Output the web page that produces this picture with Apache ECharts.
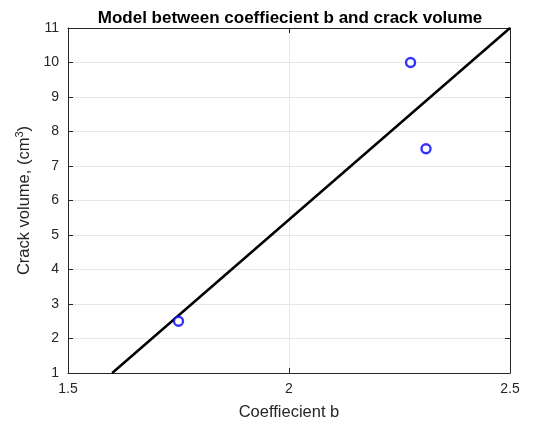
<!DOCTYPE html>
<html>
<head>
<meta charset="utf-8">
<script src="https://cdn.jsdelivr.net/npm/echarts@6/dist/echarts.min.js"></script>
<style>
  html, body { margin: 0; padding: 0; background: #fff; }
  #chart { width: 534px; height: 426px; }
</style>
</head>
<body>
<div id="chart"></div>
<script>
// measured points
const coefB = [1.75, 2.275, 2.31];
const crackVolume = [2.5, 10, 7.5];
// fitted model line (endpoints)
const modelX = [1.6, 2.5];
const modelY = [1, 11];

const font = 'Arial, "Liberation Sans", sans-serif';
const axisColor = '#262626';

const chart = echarts.init(document.getElementById('chart'));

const boxAxis = {
  axisLine: { show: true, onZero: false, lineStyle: { color: axisColor, width: 1 } },
  axisTick: { show: true, inside: true, length: 5, lineStyle: { color: axisColor } },
  axisLabel: { show: false },
  splitLine: { show: false },
};

chart.setOption({
  animation: false,
  title: {
    text: 'Model between coeffiecient b and crack volume',
    left: 285,
    textAlign: 'center',
    top: 5,
    textStyle: { fontFamily: font, fontSize: 17, fontWeight: 'bold', color: '#000' },
  },
  grid: { left: 68, right: 24, top: 28, bottom: 53 },
  xAxis: [
    {
      type: 'value',
      min: 1.5,
      max: 2.5,
      interval: 0.5,
      name: 'Coeffiecient b',
      nameLocation: 'middle',
      nameGap: 31,
      nameTextStyle: { fontFamily: font, fontSize: 16.5, color: axisColor },
      axisLine: { show: true, onZero: false, lineStyle: { color: axisColor } },
      axisTick: { inside: true, length: 5, lineStyle: { color: axisColor } },
      axisLabel: { fontFamily: font, fontSize: 14, color: axisColor, margin: 9 },
      splitLine: { show: true, lineStyle: { color: '#e6e6e6' } },
    },
    Object.assign({ type: 'value', min: 1.5, max: 2.5, interval: 0.5, position: 'top' }, boxAxis),
  ],
  yAxis: [
    {
      type: 'value',
      min: 1,
      max: 11,
      interval: 1,
      name: 'Crack volume, (cm{sup|3})',
      nameLocation: 'middle',
      nameGap: 31,
      nameTextStyle: {
        fontFamily: font,
        fontSize: 16.5,
        color: axisColor,
        rich: {
          sup: { fontFamily: font, fontSize: 11, color: axisColor, verticalAlign: 'top', padding: [0, 0, 9, 0] },
        },
      },
      axisLine: { show: true, onZero: false, lineStyle: { color: axisColor } },
      axisTick: { inside: true, length: 5, lineStyle: { color: axisColor } },
      axisLabel: { fontFamily: font, fontSize: 14, color: axisColor, margin: 9 },
      splitLine: { show: true, lineStyle: { color: '#e6e6e6' } },
    },
    Object.assign({ type: 'value', min: 1, max: 11, interval: 1, position: 'right' }, boxAxis),
  ],
  series: [
    {
      type: 'line',
      data: modelX.map((x, i) => [x, modelY[i]]),
      showSymbol: false,
      lineStyle: { color: '#000', width: 2.5 },
      z: 2,
    },
    {
      type: 'scatter',
      data: coefB.map((x, i) => [x, crackVolume[i]]),
      symbol: 'circle',
      symbolSize: 9,
      itemStyle: { color: '#fff', borderColor: '#0000ff', borderWidth: 2.4 },
      z: 3,
    },
  ],
});
</script>
</body>
</html>
